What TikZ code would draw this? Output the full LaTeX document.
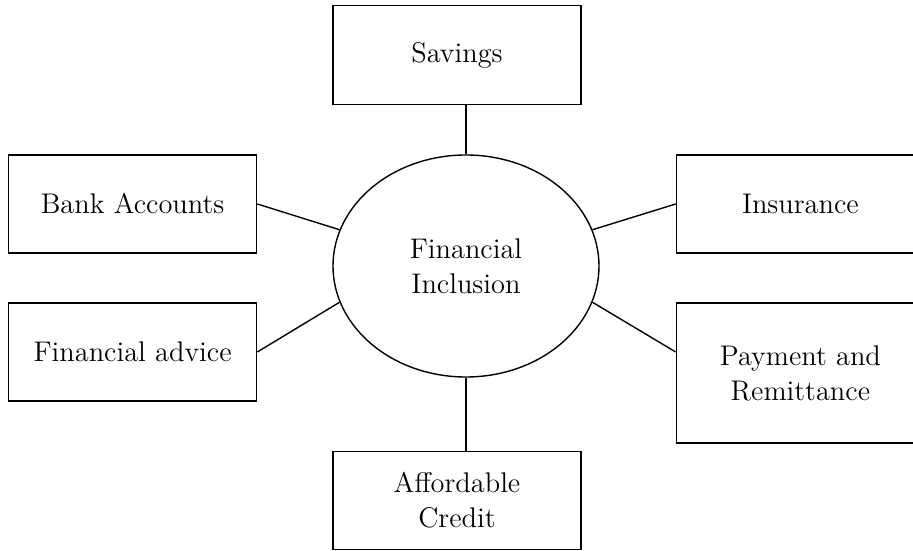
\documentclass[tikz,border=0pt]{standalone}
\usepackage{tikz}
\usetikzlibrary{positioning,shapes.geometric}

\begin{document}
\begin{tikzpicture}
[box/.style={draw,line width=0.7pt,rectangle,minimum width=124pt,align=center,inner sep=0pt},
 hub/.style={draw,line width=0.7pt,ellipse,minimum width=133pt,minimum height=111pt,inner sep=0pt,align=center},
 font=\fontsize{14.2}{17.5}\selectfont]
\useasboundingbox (-233pt,-142pt) rectangle (223.5pt,133pt);
\node[hub](fi) at (0,0){Financial\\Inclusion};
\node[box,minimum height=49.5pt,above=24.5pt of fi,xshift=-4.5pt](sav){Savings};
\node[box,minimum height=49pt,left=37.5pt of fi,yshift=31pt](bank){Bank Accounts};
\node[box,minimum height=49pt,left=37.5pt of fi,yshift=-43pt](adv){Financial advice};
\node[box,minimum height=49pt,right=38pt of fi,yshift=31pt](ins){Insurance};
\node[box,minimum height=70pt,right=38pt of fi,yshift=-53.5pt](pay){Payment and\\Remittance};
\node[box,minimum height=49pt,below=36.5pt of fi,xshift=-4.5pt](cred){Affordable\\Credit};
\draw[line width=0.7pt] (fi.north) -- (fi.north |- sav.south);
\draw[line width=0.7pt] (fi.south) -- (fi.south |- cred.north);
\draw[line width=0.7pt] (bank.east) -- (fi.164);
\draw[line width=0.7pt] (adv.east) -- (fi.196);
\draw[line width=0.7pt] (ins.west) -- (fi.16);
\draw[line width=0.7pt] ([yshift=10.5pt]pay.west) -- (fi.-16);
\end{tikzpicture}
\end{document}
